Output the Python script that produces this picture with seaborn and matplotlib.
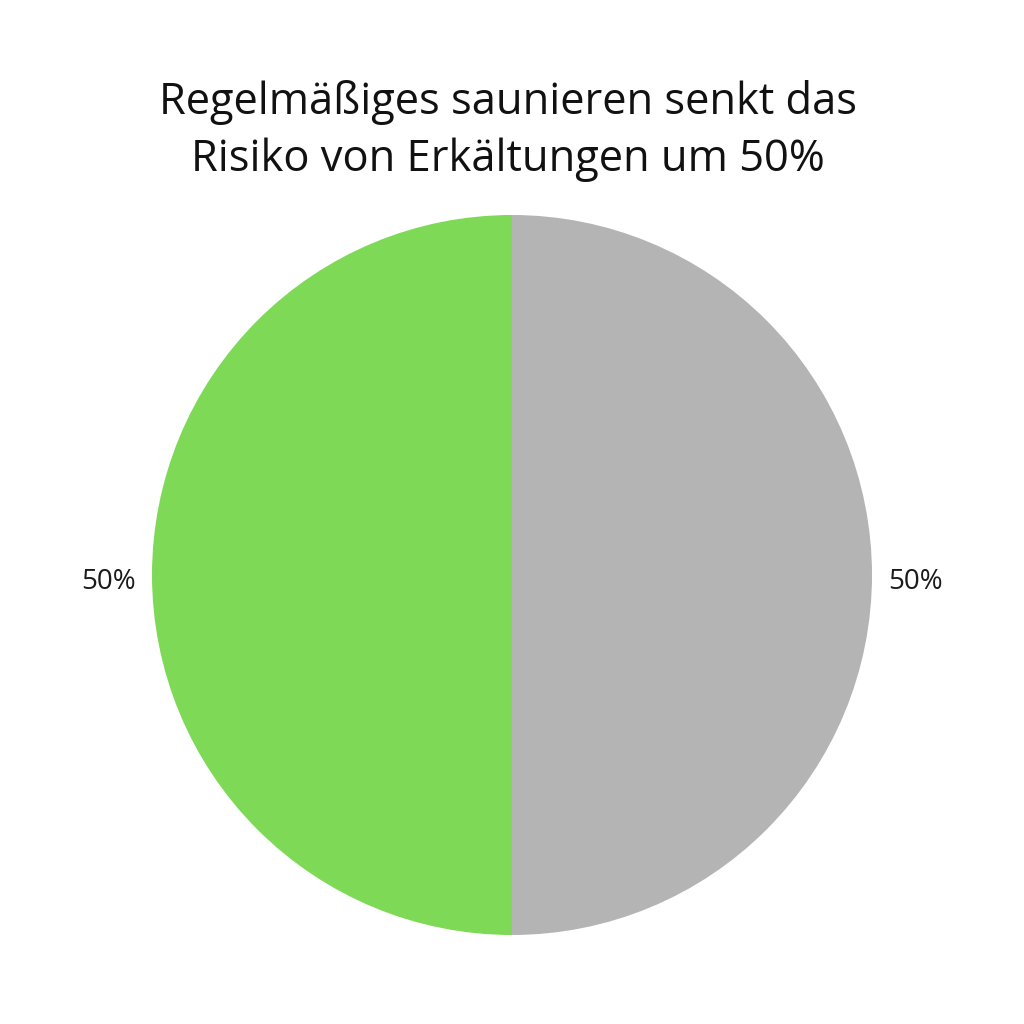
import matplotlib
matplotlib.use("Agg")
import matplotlib.pyplot as plt
import matplotlib.transforms as mtransforms
import seaborn as sns

# Data
categories = ["Regelmäßig sauniert", "Nicht sauniert"]
shares = [50, 50]
slice_colors = ["#7ED957", "#B4B4B4"]
title_text = "Regelmäßiges saunieren senkt das\nRisiko von Erkältungen um 50%"

sns.set_theme(style="white")
plt.rcParams['font.family'] = ['Open Sans', 'DejaVu Sans']

fig = plt.figure(figsize=(10.24, 10.24), dpi=100)
fig.patch.set_facecolor("white")

# Pie area: centre at (512, 575) px, radius ~360 px
ax = fig.add_axes([152 / 1024, 89 / 1024, 720 / 1024, 720 / 1024])
wedges, texts = ax.pie(
    shares,
    labels=[f"{s}%" for s in shares],
    colors=slice_colors,
    startangle=90,
    counterclock=True,
    labeldistance=1.045,
    radius=1,
    textprops={'fontsize': 20, 'color': '#1a1a1a'},
    wedgeprops={'linewidth': 0},
)
# labels sit slightly below the centre line in the reference
shift = mtransforms.ScaledTranslation(0, -7 / 100, fig.dpi_scale_trans)
for t in texts:
    t.set_transform(t.get_transform() + shift)

ax.set_xlim(-1, 1)
ax.set_ylim(-1, 1)
ax.set_aspect("equal")
ax.axis("off")

fig.text(0.496, 1 - 131 / 1024, title_text, ha="center", va="center",
         fontsize=31.3, color="#111111", linespacing=1.4)

fig.savefig("out.png", dpi=100, facecolor="white")
